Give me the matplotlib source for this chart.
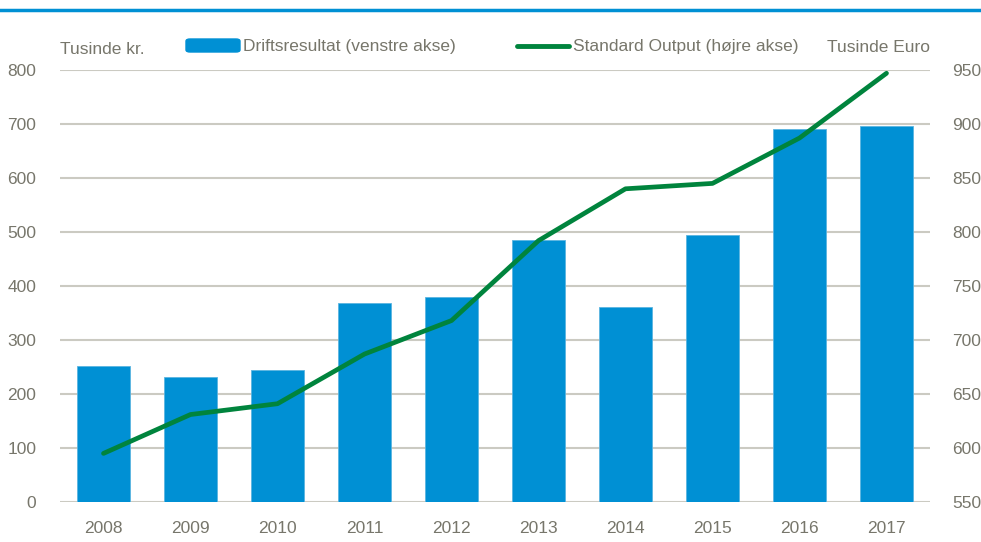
import matplotlib
matplotlib.use('Agg')
import matplotlib.pyplot as plt
from matplotlib.patches import FancyBboxPatch
from matplotlib.lines import Line2D

# data
years = ['2008', '2009', '2010', '2011', '2012', '2013', '2014', '2015', '2016', '2017']
drift = [252, 231, 244, 368, 380, 485, 361, 494, 691, 696]      # Tusinde kr. (left)
std_output = [595, 631, 641, 687, 718, 792, 840, 845, 887, 947]  # Tusinde Euro (right)

blue = '#0090d4'
green = '#00843d'
txt = '#77766b'
grid = '#cbcac2'
fs = 12.5

plt.rcParams['font.family'] = ['Liberation Sans', 'DejaVu Sans']
plt.rcParams['font.size'] = fs

fig = plt.figure(figsize=(9.81, 5.42), dpi=100)
ax = fig.add_axes([60/981, 1-502/542, 870/981, 432/542])
ax2 = ax.twinx()

x = list(range(len(years)))
ax.bar(x, drift, width=0.6, color=blue, edgecolor='#5ab4e0', linewidth=0.6, zorder=2)
ax.set_xlim(-0.5, len(years)-0.5)
ax.set_ylim(0, 800)
ax.set_yticks(range(0, 801, 100))
ax.set_xticks(x)
ax.set_xticklabels(years)
for v in range(0, 801, 100):
    ax.axhline(v, color=grid, lw=1.5, zorder=1)

ax2.plot(x, std_output, color=green, lw=3.4, solid_capstyle='round', zorder=3)
ax2.set_ylim(550, 950)
ax2.set_yticks(range(550, 951, 50))

for a in (ax, ax2):
    for s in a.spines.values():
        s.set_visible(False)
    a.tick_params(length=0, colors=txt, labelsize=fs)
ax.tick_params(axis='y', pad=17)
ax.tick_params(axis='x', pad=14)
ax2.tick_params(axis='y', pad=16)

# top rule
fig.add_artist(Line2D([0, 1], [1-10/542, 1-10/542], color=blue, lw=2.5))

# axis titles
fig.text(60/981, 1-50/542, 'Tusinde kr.', color=txt, fontsize=fs, va='center', ha='left')
fig.text(930/981, 1-48/542, 'Tusinde Euro', color=txt, fontsize=fs, va='center', ha='right')

# legend drawn by hand
fig.add_artist(FancyBboxPatch((186/981, 1-52/542), 54/981, 13/542,
                              boxstyle='round,pad=0,rounding_size=0.004',
                              transform=fig.transFigure, color=blue))
fig.text(243/981, 1-46/542, 'Driftsresultat (venstre akse)', color=txt, fontsize=fs, va='center')
fig.add_artist(Line2D([517/981, 569/981], [1-46/542, 1-46/542], color=green, lw=3.5,
                      solid_capstyle='round'))
fig.text(573/981, 1-46/542, 'Standard Output (højre akse)', color=txt, fontsize=fs, va='center')

fig.savefig('out.png', dpi=100)
